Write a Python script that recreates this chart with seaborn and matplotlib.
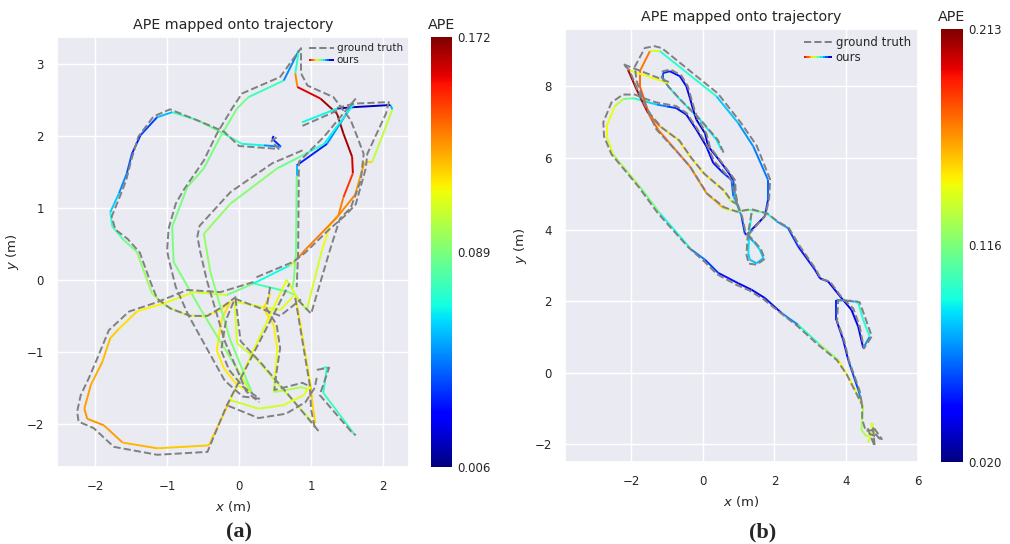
import numpy as np
import pandas as pd
import matplotlib
matplotlib.use('Agg')
import matplotlib.pyplot as plt
import seaborn as sns
from matplotlib.collections import LineCollection
from matplotlib.colors import Normalize
from matplotlib.cm import ScalarMappable
from matplotlib.legend_handler import HandlerBase
from matplotlib.lines import Line2D

nan = np.nan

# ---------------- panel (a) ----------------
a_ape_min, a_ape_max = 0.006, 0.172

a_ours_x = [0.48, 0.46, 0.58, 0.34, 0.04, -0.21, -0.58, -0.93, -1.14, -1.37, -1.49, -1.56, -1.67, -1.79, -1.76,
            -1.60, -1.42, -1.32, -1.21, -1.00, -0.72, -0.49, -0.26, -0.12, -0.24, -0.31, -0.21, -0.03, 0.16,
            -0.03, -0.26, -0.54, -0.91, -0.93, -0.72, -0.49, -0.26, -0.03, 0.13, 0.62, 0.83, 0.78, 0.81, 1.13,
            1.36, 1.45, 1.57, 1.58, 1.45, 1.38, 1.27, 1.15, 0.94, 0.78, 0.66, 0.20,
            -0.17, -0.63, -1.00, -1.42, -1.67, -1.79, -1.90, -2.06, -2.15, -2.11, -1.88, -1.62, -1.14, -0.42,
            -0.125, 0.66, 0.78, 0.99, 1.03, 1.06, nan,
            0.20, 0.70, 0.76, 0.92, 1.36, 1.61, 1.74, 1.85, 2.13, 2.10, 1.59, 1.36, nan,
            1.36, 0.875, nan,
            1.57, 1.22, 0.80, 0.80, 0.79, 0.76, 0.74, nan,
            1.59, 1.18, 0.92, 0.53, -0.12, -0.49, -0.40, -0.125, 0.18, nan,
            -0.06, -0.03, 0.25, 0.57, 1.03, nan,
            -0.08, 0.57, 0.75, nan,
            0.435, 0.34, 0.48, 0.53, 0.505, 0.48, 0.875, 0.95, nan,
            -0.125, 0.27, 0.62, 0.90, 0.99, nan,
            1.15, 1.22, 1.17, 1.59, 1.55]
a_ours_y = [2.00, 1.96, 1.85, 1.87, 1.89, 2.03, 2.22, 2.33, 2.26, 2.01, 1.75, 1.48, 1.20, 0.94, 0.74,
            0.55, 0.39, 0.11, -0.19, -0.375, -0.49, -0.51, -0.42, -0.30, -0.54, -0.98, -1.23, -1.46, -1.56,
            -1.23, -0.86, -0.40, 0.25, 0.74, 1.29, 1.55, 1.99, 2.38, 2.54, 2.77, 3.19, 2.87, 2.68, 2.52,
            2.31, 2.03, 1.71, 1.48, 1.15, 0.90, 0.78, 0.41, -0.42, -0.21, -0.16, -0.05,
            -0.21, -0.17, -0.31, -0.44, -0.68, -0.81, -1.14, -1.46, -1.79, -1.93, -2.02, -2.26, -2.34, -2.30,
            -1.67, 0.00, -0.20, -1.44, -1.80, -1.99, nan,
            -0.05, 0.20, 0.24, 0.42, 0.87, 1.18, 1.63, 1.64, 2.37, 2.43, 2.40, 2.38, nan,
            2.38, 2.19, nan,
            2.43, 1.89, 1.59, 1.45, 0.39, 0.00, -0.12, nan,
            2.44, 1.89, 1.75, 1.55, 1.06, 0.64, 0.11, -0.83, -1.57, nan,
            -0.30, -0.88, -1.11, -1.48, -1.99, nan,
            -0.30, -0.42, -0.23, nan,
            -0.19, -0.40, -0.63, -0.95, -1.28, -1.56, -1.49, -1.52, nan,
            -1.67, -1.79, -1.74, -1.60, -1.46, nan,
            -1.23, -1.21, -1.57, -2.13, -2.10]
a_ape = [0.030, 0.030, 0.035, 0.065, 0.070, 0.085, 0.085, 0.070, 0.045, 0.030, 0.035, 0.045, 0.055, 0.065, 0.075,
         0.085, 0.090, 0.095, 0.095, 0.100, 0.105, 0.110, 0.115, 0.118, 0.116, 0.115, 0.115, 0.116, 0.110,
         0.095, 0.092, 0.090, 0.088, 0.088, 0.088, 0.088, 0.088, 0.088, 0.085, 0.068, 0.030, 0.115, 0.150, 0.165,
         0.168, 0.168, 0.165, 0.155, 0.140, 0.130, 0.115, 0.108, 0.105, 0.095, 0.085, 0.070,
         0.105, 0.108, 0.112, 0.116, 0.120, 0.122, 0.125, 0.128, 0.130, 0.132, 0.130, 0.128, 0.122, 0.122,
         0.120, 0.100, 0.112, 0.118, 0.120, 0.118, nan,
         0.068, 0.068, 0.135, 0.135, 0.135, 0.132, 0.126, 0.112, 0.092, 0.020, 0.012, 0.015, nan,
         0.068, 0.066, nan,
         0.065, 0.035, 0.030, 0.085, 0.088, 0.092, 0.095, nan,
         0.065, 0.068, 0.080, 0.090, 0.092, 0.095, 0.092, 0.090, 0.088, nan,
         0.108, 0.106, 0.104, 0.103, 0.105, nan,
         0.110, 0.108, 0.108, nan,
         0.118, 0.118, 0.115, 0.113, 0.110, 0.100, 0.098, 0.100, nan,
         0.105, 0.105, 0.108, 0.110, 0.112, nan,
         0.075, 0.072, 0.072, 0.080, 0.080]

a_gt_x = [0.52, 0.45, 0.55, 0.00, -0.21, -0.54, -0.96, -1.19, -1.40, -1.50, -1.57, -1.66, -1.77, -1.72, -1.55,
          -1.38, -1.25, -1.14, -0.95, -0.68, -0.44, -0.21, -0.05, -0.18, -0.25, -0.14, 0.05, 0.28,
          0.05, -0.20, -0.45, -0.70, -0.88, -0.98, -1.00, -0.98, -0.88, -0.77, -0.49, -0.31, -0.10, 0.04, 0.57,
          0.86, 0.86, 0.95, 1.31, 1.55, 1.64, 1.73, 1.69, 1.55, 1.40, 1.26, 1.00, 0.82, nan,
          0.20, -0.26, -0.72, -1.14, -1.53, -1.81, -1.97, -2.09, -2.20, -2.25, -2.23, -2.02, -1.74, -1.14, -0.44,
          -0.17, 0.70, nan,
          1.36, 1.60, 2.08, 2.04, 1.78, 1.76, 1.62, 1.48, 1.25, 0.92, 0.75, 0.20, nan,
          1.62, 1.18, 0.83, 0.82, 0.80, nan,
          0.88, 0.46, -0.12, -0.55, -0.58, -0.54, -0.45, -0.20, 0.10, 0.28, nan,
          0.88, 1.36, nan,
          -0.05, 0.02, 0.30, 0.62, 1.12, nan,
          -0.06, 0.57, 0.86, nan,
          0.43, 0.38, 0.52, 0.57, 0.52, 0.49, 0.88, 0.98, nan,
          -0.15, 0.27, 0.65, 0.92, 1.05, 1.08, nan,
          1.08, 1.25, 1.12, 1.55, 1.62, nan,
          0.78, 0.98, 1.00, 1.05]
a_gt_y = [1.98, 1.93, 1.82, 1.86, 2.06, 2.20, 2.37, 2.27, 1.99, 1.66, 1.38, 1.15, 0.88, 0.70, 0.57,
          0.38, 0.02, -0.26, -0.40, -0.50, -0.50, -0.36, -0.24, -0.55, -0.98, -1.25, -1.48, -1.65,
          -1.62, -1.40, -0.95, -0.50, -0.10, 0.30, 0.41, 0.71, 1.06, 1.25, 1.66, 2.03, 2.38, 2.59, 2.82,
          3.22, 2.87, 2.70, 2.54, 2.22, 1.99, 1.75, 1.38, 1.00, 0.85, 0.41, -0.47, -0.28, nan,
          -0.03, -0.17, -0.14, -0.31, -0.44, -0.70, -1.09, -1.37, -1.60, -1.83, -1.97, -2.06, -2.32, -2.43, -2.39,
          -1.74, -0.05, nan,
          2.39, 2.45, 2.47, 2.31, 1.75, 1.55, 1.05, 0.90, 0.70, 0.38, 0.25, 0.02, nan,
          2.52, 1.99, 1.64, 0.39, -0.10, nan,
          1.80, 1.62, 1.22, 0.75, 0.60, 0.39, 0.00, -0.85, -1.55, -1.70, nan,
          2.14, 2.35, nan,
          -0.26, -0.85, -1.15, -1.52, -2.12, nan,
          -0.26, -0.50, -0.27, nan,
          -0.10, -0.40, -0.62, -0.95, -1.28, -1.53, -1.43, -1.48, nan,
          -1.75, -1.92, -1.86, -1.70, -1.50, -1.35, nan,
          -1.25, -1.22, -1.60, -2.10, -2.16, nan,
          -0.25, -1.45, -1.80, -2.05]

# ---------------- panel (b) ----------------
b_ape_min, b_ape_max = 0.020, 0.213

b_ours_x = [4.76, 4.71, 4.57, 4.43, 4.48, 4.34, 4.06, 3.78, 3.22, 2.66, 2.20, 1.73, 1.36, 0.99, 0.43, 0.06, -0.32,
            -1.20, -1.76, -2.50, -2.69, -2.69, -2.46, -2.23, -1.95, -1.62, -1.29, -1.01, -0.74, -0.46, -0.18,
            0.10, 0.29, 0.57, 0.80, 0.85, 0.94, 1.08, 1.17, 1.22, 1.73, 1.82, 1.82, 1.41, 0.99, 0.38, -1.20,
            -1.48, -1.76, -1.76, -1.48, -1.25, -0.69, -0.36, 0.10, 0.57, 0.94, 1.31, 1.78, 2.06, 2.38, 2.66,
            3.13, 3.27, 3.50, 3.87, 4.15, 4.34, 4.48, 4.66, 4.48, 4.34, 4.24, 3.73, 3.73, 3.92, 4.06, 4.34, 4.40, nan,
            0.52, 0.38, -0.08, -0.64, -0.97, -1.11, -1.11, -0.92, -0.64, -0.46, -0.36, -0.27, -0.18, 0.06, 0.15,
            0.38, 0.66, 0.85, 0.89, 0.94, nan,
            -0.97, -2.09, -2.09, -1.85, -1.67, -1.53, -1.20, -0.69, -0.36, 0.01, 0.57, 0.75, 0.94, nan,
            1.36, 1.29, 1.27, 1.31, 1.50, 1.69, 1.59, 1.41, 1.27, nan,
            4.62, 4.75, 4.80, 4.70]
b_ours_y = [-1.41, -1.69, -1.78, -1.59, -0.94, -0.66, -0.10, 0.36, 0.83, 1.34, 1.67, 2.09, 2.32, 2.50, 2.79, 3.16, 3.44,
            4.46, 5.20, 6.09, 6.60, 6.88, 7.44, 7.64, 7.67, 7.58, 7.49, 7.44, 7.39, 7.21, 6.79,
            6.32, 5.86, 5.58, 5.39, 4.93, 4.74, 4.37, 3.90, 3.85, 4.37, 4.83, 5.39, 6.32, 6.97, 7.72, 8.98,
            8.98, 8.42, 8.00, 7.16, 6.79, 6.14, 5.76, 5.02, 4.60, 4.50, 4.55, 4.46, 4.23, 4.04, 3.53,
            2.88, 2.64, 2.55, 2.09, 1.76, 1.29, 0.69, 1.01, 1.48, 1.95, 1.99, 2.04, 1.48, 0.92, 0.36, -0.47, -0.70, nan,
            6.23, 6.51, 7.07, 7.63, 8.00, 8.23, 8.37, 8.42, 8.28, 8.00, 7.67, 7.35, 7.07, 6.69, 6.32,
            6.04, 5.67, 5.39, 5.02, 4.74, nan,
            8.09, 8.46, 8.46, 7.91, 7.53, 7.25, 6.88, 6.51, 6.04, 5.58, 5.11, 4.83, 4.70, nan,
            4.46, 3.81, 3.34, 3.16, 3.06, 3.20, 3.44, 3.67, 3.81, nan,
            -1.95, -1.55, -1.75, -1.40]
b_ape = [0.138, 0.145, 0.130, 0.125, 0.130, 0.142, 0.148, 0.140, 0.105, 0.090, 0.050, 0.045, 0.045, 0.045, 0.050,
         0.060, 0.075, 0.110, 0.120, 0.132, 0.145, 0.145, 0.138, 0.125, 0.105, 0.090, 0.080, 0.060, 0.050, 0.045,
         0.035, 0.040, 0.045, 0.050, 0.055, 0.075, 0.090, 0.060, 0.050, 0.045, 0.045, 0.060, 0.065, 0.070, 0.075,
         0.090, 0.105, 0.170, 0.172, 0.175, 0.178, 0.172, 0.170, 0.168, 0.165, 0.150, 0.125, 0.118, 0.098, 0.088,
         0.060, 0.050, 0.045, 0.045, 0.045, 0.040, 0.040, 0.040, 0.050, 0.095, 0.098, 0.095, 0.090, 0.060, 0.045,
         0.045, 0.050, 0.065, 0.075, nan,
         0.090, 0.090, 0.090, 0.092, 0.090, 0.070, 0.055, 0.050, 0.045, 0.040, 0.040, 0.035, 0.035, 0.035, 0.040,
         0.040, 0.045, 0.050, 0.070, 0.090, nan,
         0.140, 0.145, 0.205, 0.205, 0.205, 0.195, 0.150, 0.148, 0.147, 0.147, 0.145, 0.140, 0.120, nan,
         0.095, 0.090, 0.085, 0.082, 0.080, 0.082, 0.085, 0.088, 0.060, nan,
         0.130, 0.140, 0.130, 0.142]

b_gt_x = [4.95, 4.72, 4.55, 4.45, 4.45, 4.30, 4.02, 3.75, 3.20, 2.65, 2.20, 1.70, 1.30, 0.95, 0.40, 0.05, -0.40,
          -1.25, -1.80, -2.55, -2.76, -2.78, -2.55, -2.23, -1.90, -1.60, -1.30, -0.75, -0.45, -0.15, 0.12, 0.32,
          0.60, 0.82, 0.90, 0.97, nan,
          1.27, 1.75, 1.85, 1.88, 1.50, 1.05, 0.42, -1.15, -1.35, -1.62, -1.90, -1.85, -1.62, -1.30, -0.70, -0.35,
          0.12, 0.60, 0.95, 1.35, 1.80, 2.10, 2.40, 2.70, 3.15, 3.30, 3.55, 3.90, 4.20, 4.38, 4.50, 4.72, 4.55,
          4.38, 4.22, 3.78, 3.75, 3.95, 4.08, 4.38, 4.45, nan,
          -0.95, -2.23, -2.05, -1.80, -1.62, -1.45, -1.15, -0.65, -0.32, 0.05, 0.60, 0.80, 0.97, nan,
          0.58, 0.42, -0.05, -0.60, -0.95, -1.15, -1.12, -0.90, -0.60, -0.42, -0.32, -0.22, -0.12, 0.10, 0.20,
          0.42, 0.70, 0.90, 0.92, 0.97, 1.10, 1.20, 1.27, nan,
          1.36, 1.25, 1.22, 1.28, 1.50, 1.73, 1.62, 1.41, 1.27, nan,
          4.60, 4.80, 4.75, 5.00, 4.65]
b_gt_y = [-1.85, -1.60, -1.62, -1.30, -0.90, -0.60, -0.05, 0.35, 0.80, 1.30, 1.65, 2.05, 2.30, 2.45, 2.75, 3.10, 3.50,
          4.45, 5.20, 6.10, 6.60, 7.00, 7.55, 7.77, 7.77, 7.65, 7.55, 7.45, 7.25, 6.80, 6.35, 5.90,
          5.60, 5.35, 4.90, 4.70, nan,
          3.85, 4.40, 4.85, 5.40, 6.35, 7.00, 7.80, 9.07, 9.12, 9.07, 8.55, 8.15, 7.50, 6.80, 6.15, 5.75,
          5.00, 4.62, 4.50, 4.57, 4.45, 4.22, 4.05, 3.55, 2.90, 2.62, 2.55, 2.08, 1.80, 1.30, 0.68, 1.02, 1.50,
          1.97, 2.01, 2.02, 1.45, 0.90, 0.35, -0.50, -0.90, nan,
          8.12, 8.62, 8.45, 7.85, 7.48, 7.20, 6.85, 6.48, 6.00, 5.55, 5.08, 4.80, 4.70, nan,
          6.15, 6.50, 7.05, 7.60, 7.98, 8.25, 8.42, 8.47, 8.30, 8.00, 7.65, 7.30, 7.05, 6.68, 6.30,
          6.02, 5.65, 5.38, 5.00, 4.72, 4.35, 3.90, 3.85, nan,
          4.46, 3.81, 3.30, 3.05, 3.02, 3.18, 3.46, 3.70, 3.85, nan,
          -1.55, -2.05, -1.50, -1.85, -1.70]


class GradientLineHandler(HandlerBase):
    # legend swatch for the colour-mapped trajectory
    def create_artists(self, legend, orig_handle, xdescent, ydescent, width, height, fontsize, trans):
        n = 12
        xs = np.linspace(-xdescent, width - xdescent, n + 1)
        y = height / 2 - ydescent
        segs = [[(xs[i], y), (xs[i + 1], y)] for i in range(n)]
        lc = LineCollection(segs, colors=plt.get_cmap('jet')(np.linspace(0.9, 0.05, n)),
                            linewidths=1.4, transform=trans)
        return [lc]


def split_pieces(xs, ys):
    df = pd.DataFrame({'x': xs, 'y': ys})
    df['piece'] = df['x'].isna().cumsum()
    return df.dropna()


def draw_panel(ax, cax, ox, oy, ape, gx, gy, vmin, vmax, legend_size):
    cmap = plt.get_cmap('jet')
    norm = Normalize(vmin, vmax)

    segs, vals = [], []
    for i in range(len(ox) - 1):
        if np.isnan(ox[i]) or np.isnan(ox[i + 1]):
            continue
        segs.append([(ox[i], oy[i]), (ox[i + 1], oy[i + 1])])
        vals.append((ape[i] + ape[i + 1]) / 2)
    lc = LineCollection(segs, cmap=cmap, norm=norm, linewidths=1.4, zorder=2)
    lc.set_array(np.array(vals))
    ax.add_collection(lc)

    gt = split_pieces(gx, gy)
    sns.lineplot(data=gt, x='x', y='y', units='piece', estimator=None, sort=False,
                 color='#808080', linestyle='--', linewidth=1.4, ax=ax, legend=False, zorder=3)

    ax.set_title('APE mapped onto trajectory', fontsize=10.3)
    ax.set_xlabel('$x$ (m)', fontsize=9.5)
    ax.set_ylabel('$y$ (m)', fontsize=9.5)
    ax.tick_params(labelsize=8.5)

    handles = [Line2D([], [], color='#808080', linestyle='--', linewidth=1.4), lc]
    ax.legend(handles, ['ground truth', 'ours'], loc='upper right', frameon=False,
              fontsize=legend_size, handler_map={LineCollection: GradientLineHandler()},
              borderaxespad=0.2, handletextpad=0.3, labelspacing=0.2, handlelength=2.4)

    sm = ScalarMappable(norm=norm, cmap=cmap)
    mid = (vmin + vmax) / 2
    cb = fig.colorbar(sm, cax=cax, ticks=[vmin, mid, vmax])
    cb.ax.set_yticklabels([f'{v:.3f}' for v in (vmin, mid, vmax)])
    cb.ax.tick_params(labelsize=8.5, length=0)
    cb.outline.set_visible(False)
    cax.set_title('APE', fontsize=10.3)


sns.set_theme(style='darkgrid')
plt.rcParams['font.family'] = ['DejaVu Sans']

fig = plt.figure(figsize=(10.1, 5.44), dpi=100)
W, H = 1010, 544

ax_a = fig.add_axes([57 / W, 1 - 467 / H, 352 / W, 430 / H])
cax_a = fig.add_axes([431 / W, 1 - 467 / H, 21 / W, 430 / H])
ax_b = fig.add_axes([565 / W, 1 - 462 / H, 353 / W, 433 / H])
cax_b = fig.add_axes([941 / W, 1 - 462 / H, 22 / W, 433 / H])

draw_panel(ax_a, cax_a, a_ours_x, a_ours_y, a_ape, a_gt_x, a_gt_y, a_ape_min, a_ape_max, 7.5)
ax_a.set_xlim(-2.53, 2.36)
ax_a.set_ylim(-2.6, 3.375)
ax_a.set_xticks([-2, -1, 0, 1, 2])
ax_a.set_yticks([-2, -1, 0, 1, 2, 3])

draw_panel(ax_b, cax_b, b_ours_x, b_ours_y, b_ape, b_gt_x, b_gt_y, b_ape_min, b_ape_max, 8.5)
ax_b.set_xlim(-3.85, 6.01)
ax_b.set_ylim(-2.49, 9.6)
ax_b.set_xticks([-2, 0, 2, 4, 6])
ax_b.set_yticks([-2, 0, 2, 4, 6, 8])

fig.text(239 / W, 1 - 532 / H, '(a)', ha='center', va='center', fontsize=16,
         fontweight='bold', family='Liberation Serif')
fig.text(763 / W, 1 - 532 / H, '(b)', ha='center', va='center', fontsize=16,
         fontweight='bold', family='Liberation Serif')

fig.savefig('out.png', dpi=100)
